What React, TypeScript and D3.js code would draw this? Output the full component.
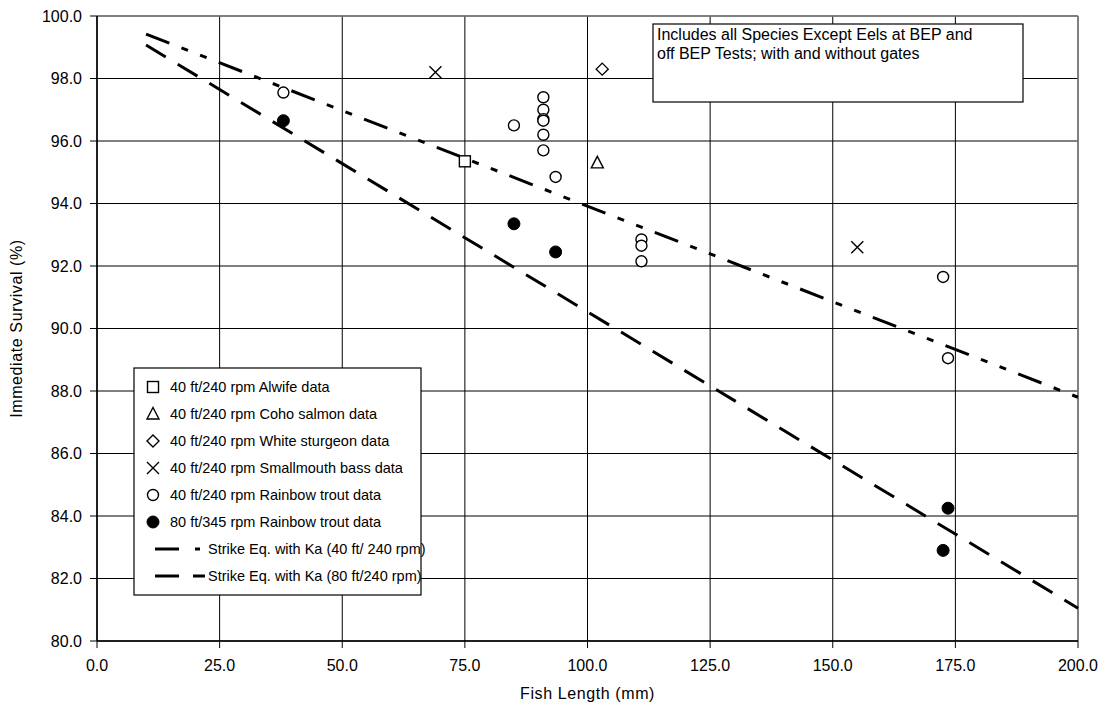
import React from "react";
import * as d3 from "d3";

type P = { x: number; y: number };

const alewife: P[] = [{ x: 75, y: 95.35 }];
const coho: P[] = [{ x: 102, y: 95.3 }];
const sturgeon: P[] = [{ x: 103, y: 98.3 }];
const bass: P[] = [
  { x: 69, y: 98.2 },
  { x: 155, y: 92.6 },
];
const rainbow40: P[] = [
  { x: 38, y: 97.55 },
  { x: 85, y: 96.5 },
  { x: 91, y: 97.4 },
  { x: 91, y: 97.0 },
  { x: 91, y: 96.7 },
  { x: 91, y: 96.65 },
  { x: 91, y: 96.2 },
  { x: 91, y: 95.7 },
  { x: 93.5, y: 94.85 },
  { x: 111, y: 92.85 },
  { x: 111, y: 92.65 },
  { x: 111, y: 92.15 },
  { x: 172.5, y: 91.65 },
  { x: 173.5, y: 89.05 },
];
const rainbow80: P[] = [
  { x: 38, y: 96.65 },
  { x: 85, y: 93.35 },
  { x: 93.5, y: 92.45 },
  { x: 173.5, y: 84.25 },
  { x: 172.5, y: 82.9 },
];
const strike40: P[] = [
  { x: 10, y: 99.42 },
  { x: 200, y: 87.8 },
];
const strike80: P[] = [
  { x: 10, y: 99.07 },
  { x: 200, y: 81.05 },
];

const xTicks = [0, 25, 50, 75, 100, 125, 150, 175, 200];
const yTicks = [80, 82, 84, 86, 88, 90, 92, 94, 96, 98, 100];

const legendLabels = [
  "40 ft/240 rpm Alwife data",
  "40 ft/240 rpm Coho salmon data",
  "40 ft/240 rpm White sturgeon data",
  "40 ft/240 rpm Smallmouth bass data",
  "40 ft/240 rpm Rainbow trout data",
  "80 ft/345 rpm Rainbow trout data",
  "Strike Eq. with Ka (40 ft/ 240 rpm)",
  "Strike Eq. with Ka (80 ft/240 rpm)",
];
const noteLines = [
  "Includes all Species Except Eels at BEP and",
  "off BEP Tests; with and without gates",
];

const FONT = "'Liberation Sans', Arial, sans-serif";
const DASH40 = "25,13,7,13,7,13";
const DASH80 = "23,14";
const LS = 0.6;

type Kind = "square" | "triangle" | "diamond" | "x" | "circle" | "dot";

function Marker({ kind, cx, cy }: { kind: Kind; cx: number; cy: number }) {
  const sw = 1.4;
  switch (kind) {
    case "square":
      return <rect x={cx - 5.5} y={cy - 5.5} width={11} height={11} fill="white" stroke="black" strokeWidth={sw} />;
    case "triangle":
      return (
        <path
          d={`M${cx},${cy - 6.5}L${cx + 6},${cy + 5}L${cx - 6},${cy + 5}Z`}
          fill="white"
          stroke="black"
          strokeWidth={sw}
        />
      );
    case "diamond":
      return (
        <path
          d={`M${cx},${cy - 6}L${cx + 6},${cy}L${cx},${cy + 6}L${cx - 6},${cy}Z`}
          fill="white"
          stroke="black"
          strokeWidth={sw}
        />
      );
    case "x":
      return (
        <path
          d={`M${cx - 6},${cy - 6}L${cx + 6},${cy + 6}M${cx + 6},${cy - 6}L${cx - 6},${cy + 6}`}
          stroke="black"
          strokeWidth={sw}
        />
      );
    case "circle":
      return <circle cx={cx} cy={cy} r={5.5} fill="white" stroke="black" strokeWidth={sw} />;
    case "dot":
      return <circle cx={cx} cy={cy} r={6} fill="black" stroke="black" strokeWidth={1} />;
  }
}

export default function App() {
  const W = 1105;
  const H = 706;
  const left = 97,
    right = 1078,
    top = 16,
    bottom = 641;
  const x = d3.scaleLinear().domain([0, 200]).range([left, right]);
  const y = d3.scaleLinear().domain([80, 100]).range([bottom, top]);
  const line = d3
    .line<P>()
    .x((d) => x(d.x))
    .y((d) => y(d.y));

  const scatter: { kind: Kind; data: P[] }[] = [
    { kind: "square", data: alewife },
    { kind: "triangle", data: coho },
    { kind: "diamond", data: sturgeon },
    { kind: "x", data: bass },
    { kind: "circle", data: rainbow40 },
    { kind: "dot", data: rainbow80 },
  ];

  const legX = 134,
    legY = 368,
    legW = 287,
    legH = 227;
  const rowY0 = 387,
    rowStep = 27;
  const kinds: Kind[] = ["square", "triangle", "diamond", "x", "circle", "dot"];

  return (
    <div style={{ position: "fixed", left: 0, top: 0 }}>
      <svg width={W} height={H} style={{ display: "block", fontFamily: FONT }}>
        <rect x={0} y={0} width={W} height={H} fill="white" />
        {yTicks.map((t) => (
          <line key={"gy" + t} x1={left} x2={right} y1={y(t)} y2={y(t)} stroke="#000" strokeWidth={1} />
        ))}
        {xTicks.map((t) => (
          <line key={"gx" + t} x1={x(t)} x2={x(t)} y1={top} y2={bottom} stroke="#000" strokeWidth={1} />
        ))}
        <line x1={left} x2={right} y1={top} y2={top} stroke="#808080" strokeWidth={1.5} />
        <line x1={right} x2={right} y1={top} y2={bottom} stroke="#808080" strokeWidth={1.5} />
        <line x1={left} x2={left} y1={top} y2={bottom} stroke="#000" strokeWidth={1.5} />
        <line x1={left} x2={right} y1={bottom} y2={bottom} stroke="#000" strokeWidth={1.5} />
        {yTicks.map((t) => (
          <g key={"ty" + t}>
            <line x1={left - 7} x2={left} y1={y(t)} y2={y(t)} stroke="#000" />
            <text x={left - 15} y={y(t)} dy="0.35em" textAnchor="end" fontSize={16}>
              {d3.format(".1f")(t)}
            </text>
          </g>
        ))}
        {xTicks.map((t) => (
          <g key={"tx" + t}>
            <line x1={x(t)} x2={x(t)} y1={bottom} y2={bottom + 7} stroke="#000" />
            <text x={x(t)} y={bottom + 24} dy="0.35em" textAnchor="middle" fontSize={16}>
              {d3.format(".1f")(t)}
            </text>
          </g>
        ))}
        <text
          x={(left + right) / 2}
          y={693}
          textAnchor="middle"
          fontSize={16}
          letterSpacing={LS}
          dy="0.35em"
        >
          Fish Length (mm)
        </text>
        <text
          transform={`translate(16,${(top + bottom) / 2}) rotate(-90)`}
          textAnchor="middle"
          fontSize={16}
          letterSpacing={LS}
          dy="0.35em"
        >
          Immediate Survival (%)
        </text>

        <path d={line(strike40) || ""} fill="none" stroke="black" strokeWidth={3} strokeDasharray={DASH40} />
        <path d={line(strike80) || ""} fill="none" stroke="black" strokeWidth={3} strokeDasharray={DASH80} />

        {scatter.map((s) =>
          s.data.map((d, i) => <Marker key={s.kind + i} kind={s.kind} cx={x(d.x)} cy={y(d.y)} />)
        )}

        <rect x={653} y={24} width={370} height={78} fill="white" stroke="black" strokeWidth={1.2} />
        {noteLines.map((l, i) => (
          <text key={l} x={657} y={40 + i * 19} fontSize={16}>
            {l}
          </text>
        ))}

        <rect x={legX} y={legY} width={legW} height={legH} fill="white" stroke="black" strokeWidth={1.2} />
        {legendLabels.map((lab, i) => {
          const cy = rowY0 + i * rowStep;
          return (
            <g key={lab}>
              {i < 6 ? (
                <Marker kind={kinds[i]} cx={153} cy={cy} />
              ) : (
                <line
                  x1={155}
                  x2={205}
                  y1={cy}
                  y2={cy}
                  stroke="black"
                  strokeWidth={3}
                  strokeDasharray={i === 6 ? "24,16,5,20" : "24,14,12,0"}
                />
              )}
              <text x={i < 6 ? 170 : 208} y={cy} dy="0.35em" fontSize={14.5}>
                {lab}
              </text>
            </g>
          );
        })}
      </svg>
    </div>
  );
}
